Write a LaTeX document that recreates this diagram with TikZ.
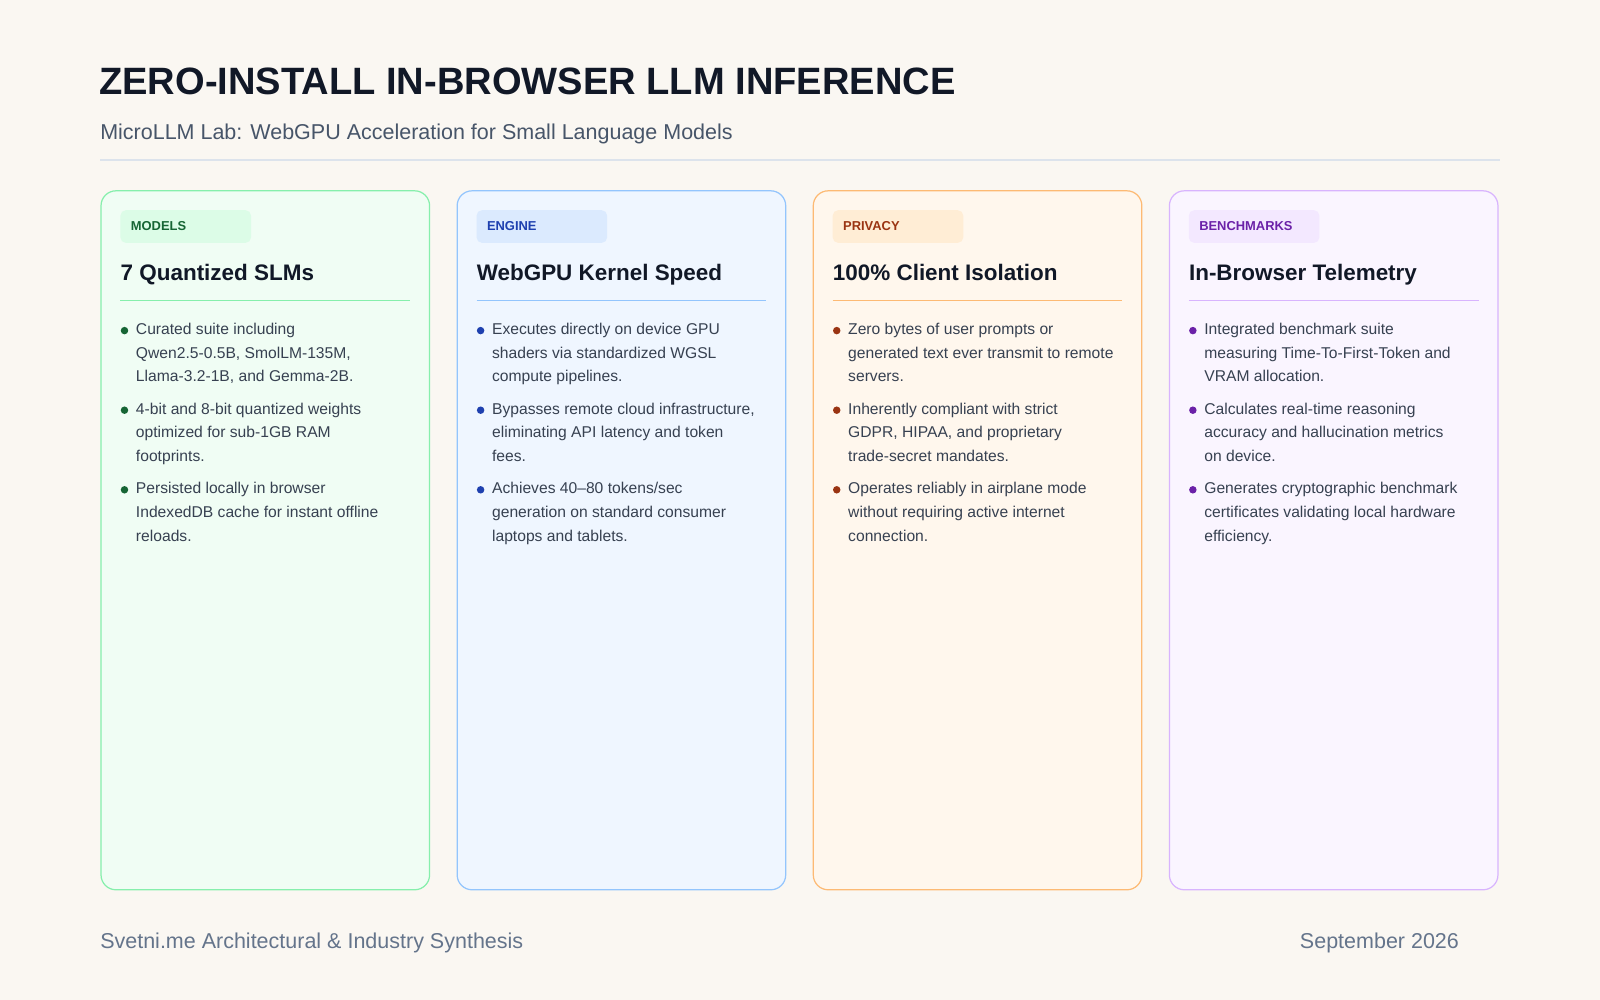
\documentclass[tikz,border=0pt]{standalone}
\usepackage{fontspec}
\setmainfont{Liberation Sans}
\usetikzlibrary{positioning}
\definecolor{pagebg}{HTML}{FAF7F2}
\definecolor{ink}{HTML}{111827}
\definecolor{subink}{HTML}{475569}
\definecolor{footink}{HTML}{64748B}
\definecolor{bodyink}{HTML}{374151}
\definecolor{rulegray}{HTML}{DCE3EC}
\definecolor{gfill}{HTML}{F0FDF4}\definecolor{gline}{HTML}{86EFAC}\definecolor{gtag}{HTML}{DCFCE7}\definecolor{gtext}{HTML}{166534}
\definecolor{bfill}{HTML}{EFF6FF}\definecolor{bline}{HTML}{93C5FD}\definecolor{btag}{HTML}{DBEAFE}\definecolor{btext}{HTML}{1E40AF}
\definecolor{ofill}{HTML}{FFF7ED}\definecolor{oline}{HTML}{FDBA74}\definecolor{otag}{HTML}{FFEDD5}\definecolor{otext}{HTML}{9A3412}
\definecolor{pfill}{HTML}{FAF5FF}\definecolor{pline}{HTML}{D8B4FE}\definecolor{ptag}{HTML}{F3E8FF}\definecolor{ptext}{HTML}{6B21A8}
\tikzset{
    card/.style = {rounded corners=11pt, line width=0.9pt},
    tagbox/.style = {rounded corners=4pt},
    tagtext/.style = {anchor=west, inner sep=0, font=\fontsize{9.5}{11}\selectfont\bfseries},
    cardtitle/.style = {anchor=base west, inner sep=0, text=ink, font=\fontsize{16.5}{20}\selectfont\bfseries},
    bullettext/.style = {anchor=north west, inner sep=0, align=left, text=bodyink, font=\fontsize{11.5}{17.4}\selectfont},
    dot/.style = {circle, inner sep=0, minimum size=5.5pt}
}
% one card: x, prefix, tag, title, three bullets
\newcommand{\card}[7]{
    \draw [card, draw=#2line, fill=#2fill] (#1,187) rectangle ++(322,685);
    \fill [tagbox, #2tag] (#1+19,206) rectangle ++(128,32);
    \node [tagtext, text=#2text] (tag#2) at (#1+29,222) {#3};
    \node [cardtitle] (title#2) at (#1+19,275) {#4};
    \draw [#2line, line width=0.6pt] (#1+19,294.5) -- ++(284,0);
    \foreach \txt [count=\i] in {#5,#6,#7} {
        \pgfmathsetmacro{\yy}{323+(\i-1)*78}
        \node [dot, fill=#2text] (dot#2\i) at (#1+23,\yy+1) {};
        \node [bullettext] (item#2\i) at (#1+34,\yy-6.5) {\txt};
    }
}
\begin{document}
\begin{tikzpicture}[x=0.75pt, y=-0.75pt]
    \fill [pagebg] (0,0) rectangle (1568,980);
    \node [anchor=base west, inner sep=0, text=ink, font=\fontsize{28}{32}\selectfont\bfseries] (title) at (97,93) {ZERO-INSTALL IN-BROWSER LLM INFERENCE};
    \node [anchor=base west, inner sep=0, text=subink, font=\fontsize{15.8}{18}\selectfont] (subtitle) at (98,137) {MicroLLM Lab: WebGPU Acceleration for Small Language Models};
    \draw [rulegray, line width=1.2pt] (98,157) -- (1470,157);
    \card{99}{g}{MODELS}{7 Quantized SLMs}
        {{Curated suite including\\Qwen2.5-0.5B, SmolLM-135M,\\Llama-3.2-1B, and Gemma-2B.}}
        {{4-bit and 8-bit quantized weights\\optimized for sub-1GB RAM\\footprints.}}
        {{Persisted locally in browser\\IndexedDB cache for instant offline\\reloads.}}
    \card{448}{b}{ENGINE}{WebGPU Kernel Speed}
        {{Executes directly on device GPU\\shaders via standardized WGSL\\compute pipelines.}}
        {{Bypasses remote cloud infrastructure,\\eliminating API latency and token\\fees.}}
        {{Achieves 40--80 tokens/sec\\generation on standard consumer\\laptops and tablets.}}
    \card{797}{o}{PRIVACY}{100\% Client Isolation}
        {{Zero bytes of user prompts or\\generated text ever transmit to remote\\servers.}}
        {{Inherently compliant with strict\\GDPR, HIPAA, and proprietary\\trade-secret mandates.}}
        {{Operates reliably in airplane mode\\without requiring active internet\\connection.}}
    \card{1146}{p}{BENCHMARKS}{In-Browser Telemetry}
        {{Integrated benchmark suite\\measuring Time-To-First-Token and\\VRAM allocation.}}
        {{Calculates real-time reasoning\\accuracy and hallucination metrics\\on device.}}
        {{Generates cryptographic benchmark\\certificates validating local hardware\\efficiency.}}
    \node [anchor=base west, inner sep=0, text=footink, font=\fontsize{15.8}{18}\selectfont] (source) at (98,930) {Svetni.me Architectural \& Industry Synthesis};
    \node [anchor=base east, inner sep=0, text=footink, font=\fontsize{15.8}{18}\selectfont] (date) at (1430,930) {September 2026};
\end{tikzpicture}
\end{document}
